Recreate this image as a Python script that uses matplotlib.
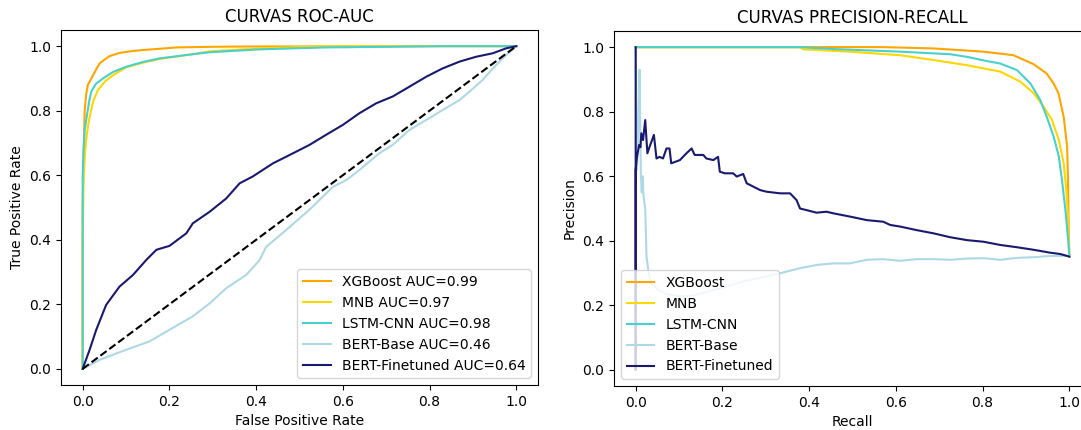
import matplotlib
matplotlib.use("Agg")
import matplotlib.pyplot as plt

models = ["XGBoost", "MNB", "LSTM-CNN", "BERT-Base", "BERT-Finetuned"]
aucs = [0.99, 0.97, 0.98, 0.46, 0.64]
colors = ["orange", "gold", "mediumturquoise", "lightblue", "midnightblue"]

# ROC curves (FPR, TPR)
xgb_fpr = [0, 0, 0.002, 0.0046, 0.008, 0.012, 0.018, 0.024, 0.032, 0.039, 0.05, 0.062, 0.085, 0.11, 0.139, 0.18, 0.216, 0.3, 0.4, 0.5, 0.6, 1.0]
xgb_tpr = [0, 0.5, 0.65, 0.80, 0.85, 0.88, 0.895, 0.91, 0.93, 0.946, 0.958, 0.969, 0.979, 0.984, 0.988, 0.992, 0.996, 0.998, 0.999, 0.999, 1.0, 1.0]

mnb_fpr = [0, 0, 0.002, 0.005, 0.008, 0.012, 0.016, 0.02, 0.024, 0.035, 0.051, 0.07, 0.1, 0.139, 0.177, 0.254, 0.293, 0.408, 0.5, 0.577, 1.0]
mnb_tpr = [0, 0.38, 0.585, 0.66, 0.709, 0.75, 0.78, 0.805, 0.828, 0.864, 0.89, 0.91, 0.934, 0.949, 0.96, 0.975, 0.984, 0.993, 0.997, 1.0, 1.0]

lstm_fpr = [0, 0, 0.002, 0.0046, 0.008, 0.015, 0.02, 0.031, 0.047, 0.07, 0.1, 0.139, 0.177, 0.254, 0.293, 0.408, 0.561, 0.715, 0.83, 1.0]
lstm_tpr = [0, 0.6, 0.68, 0.74, 0.77, 0.83, 0.86, 0.884, 0.9, 0.92, 0.936, 0.951, 0.962, 0.975, 0.981, 0.99, 0.996, 0.998, 1.0, 1.0]

bb_fpr = [0, 0.039, 0.1, 0.154, 0.2, 0.253, 0.293, 0.331, 0.377, 0.408, 0.423, 0.469, 0.522, 0.561, 0.577, 0.608, 0.638, 0.684, 0.715, 0.753, 0.792, 0.83, 0.869, 0.892, 0.922, 0.946, 0.976, 1.0]
bb_tpr = [0, 0.028, 0.059, 0.085, 0.121, 0.162, 0.203, 0.25, 0.291, 0.337, 0.378, 0.43, 0.492, 0.543, 0.564, 0.585, 0.616, 0.668, 0.694, 0.74, 0.771, 0.802, 0.833, 0.859, 0.895, 0.931, 0.972, 1.0]

bf_fpr = [0, 0.016, 0.031, 0.054, 0.085, 0.116, 0.147, 0.17, 0.2, 0.239, 0.254, 0.293, 0.331, 0.362, 0.392, 0.439, 0.485, 0.523, 0.561, 0.6, 0.638, 0.677, 0.715, 0.753, 0.792, 0.83, 0.869, 0.907, 0.946, 0.976, 1.0]
bf_tpr = [0, 0.059, 0.12, 0.198, 0.255, 0.291, 0.338, 0.369, 0.381, 0.42, 0.451, 0.487, 0.528, 0.575, 0.596, 0.637, 0.668, 0.694, 0.725, 0.756, 0.792, 0.823, 0.844, 0.874, 0.905, 0.931, 0.952, 0.967, 0.978, 0.993, 1.0]

# Precision-Recall curves (recall, precision)
xgb_rec = [0, 0.571, 0.687, 0.802, 0.871, 0.918, 0.948, 0.964, 0.975, 0.987, 0.995, 0.997, 0.998, 1.0]
xgb_prec = [1.0, 1.0, 0.996, 0.986, 0.975, 0.947, 0.918, 0.887, 0.857, 0.784, 0.691, 0.588, 0.485, 0.351]

mnb_rec = [0, 0.379, 0.386, 0.494, 0.61, 0.687, 0.764, 0.841, 0.887, 0.918, 0.941, 0.96, 0.976, 0.987, 0.993, 0.997, 1.0]
mnb_prec = [1.0, 1.0, 0.993, 0.986, 0.975, 0.96, 0.944, 0.924, 0.893, 0.857, 0.815, 0.774, 0.712, 0.64, 0.557, 0.475, 0.351]

lstm_rec = [0, 0.379, 0.456, 0.61, 0.725, 0.764, 0.802, 0.841, 0.879, 0.91, 0.933, 0.948, 0.964, 0.976, 0.983, 0.991, 0.998, 1.0]
lstm_prec = [1.0, 1.0, 0.994, 0.986, 0.978, 0.97, 0.959, 0.949, 0.929, 0.888, 0.836, 0.784, 0.722, 0.66, 0.588, 0.495, 0.392, 0.351]

bb_rec = [0, 0.003, 0.006, 0.009, 0.012, 0.014, 0.016, 0.018, 0.022, 0.025, 0.03, 0.035, 0.05, 0.07, 0.1, 0.13, 0.16, 0.2, 0.25, 0.317, 0.379, 0.417, 0.456, 0.494, 0.533, 0.571, 0.61, 0.648, 0.687, 0.725, 0.764, 0.802, 0.841, 0.879, 0.918, 0.956, 1.0]
bb_prec = [1.0, 0.62, 0.75, 0.93, 0.6, 0.55, 0.6, 0.54, 0.5, 0.35, 0.3, 0.27, 0.25, 0.235, 0.228, 0.23, 0.24, 0.255, 0.275, 0.294, 0.315, 0.325, 0.33, 0.33, 0.341, 0.343, 0.338, 0.343, 0.343, 0.341, 0.345, 0.346, 0.341, 0.347, 0.349, 0.353, 0.353]

bf_rec = [0, 0, 0.0, 0.003, 0.008, 0.011, 0.013, 0.017, 0.022, 0.027, 0.032, 0.042, 0.048, 0.055, 0.063, 0.071, 0.078, 0.082, 0.102, 0.117, 0.129, 0.136, 0.156, 0.163, 0.179, 0.19, 0.194, 0.206, 0.225, 0.233, 0.248, 0.256, 0.271, 0.287, 0.302, 0.333, 0.356, 0.371, 0.379, 0.394, 0.417, 0.44, 0.456, 0.494, 0.533, 0.571, 0.587, 0.61, 0.648, 0.687, 0.725, 0.764, 0.802, 0.841, 0.879, 0.918, 0.956, 0.979, 1.0]
bf_prec = [1.0, 0.0, 0.62, 0.66, 0.697, 0.69, 0.733, 0.712, 0.774, 0.671, 0.691, 0.728, 0.655, 0.66, 0.655, 0.686, 0.686, 0.64, 0.65, 0.671, 0.686, 0.666, 0.666, 0.655, 0.65, 0.66, 0.614, 0.609, 0.609, 0.599, 0.607, 0.578, 0.568, 0.557, 0.552, 0.547, 0.547, 0.526, 0.5, 0.495, 0.487, 0.49, 0.485, 0.475, 0.464, 0.459, 0.449, 0.444, 0.433, 0.423, 0.411, 0.402, 0.397, 0.387, 0.38, 0.372, 0.363, 0.359, 0.351]

roc_data = [(xgb_fpr, xgb_tpr), (mnb_fpr, mnb_tpr), (lstm_fpr, lstm_tpr), (bb_fpr, bb_tpr), (bf_fpr, bf_tpr)]
pr_data = [(xgb_rec, xgb_prec), (mnb_rec, mnb_prec), (lstm_rec, lstm_prec), (bb_rec, bb_prec), (bf_rec, bf_prec)]

W, H = 1081, 430
fig = plt.figure(figsize=(W / 100, H / 100), dpi=100)
ax1 = fig.add_axes([61 / W, (H - 385) / H, 477 / W, 355 / H])
ax2 = fig.add_axes([614 / W, (H - 386) / H, 477 / W, 355 / H])

for (x, y), name, auc, c in zip(roc_data, models, aucs, colors):
    ax1.plot(x, y, color=c, lw=1.5, label=f"{name} AUC={auc:.2f}")
ax1.plot([0, 1], [0, 1], "k--", lw=1.5)
ax1.set_title("CURVAS ROC-AUC")
ax1.set_xlabel("False Positive Rate")
ax1.set_ylabel("True Positive Rate")
ax1.legend(loc="lower right")

for (x, y), name, c in zip(pr_data, models, colors):
    ax2.plot(x, y, color=c, lw=1.5, label=name)
ax2.set_title("CURVAS PRECISION-RECALL")
ax2.set_xlabel("Recall")
ax2.set_ylabel("Precision")
ax2.legend(loc="lower left")

for ax in (ax1, ax2):
    ax.set_xlim(-0.05, 1.05)
    ax.set_ylim(-0.05, 1.05)
    ax.set_xticks([0, 0.2, 0.4, 0.6, 0.8, 1.0])
    ax.set_yticks([0, 0.2, 0.4, 0.6, 0.8, 1.0])

fig.savefig("out.png", dpi=100)
